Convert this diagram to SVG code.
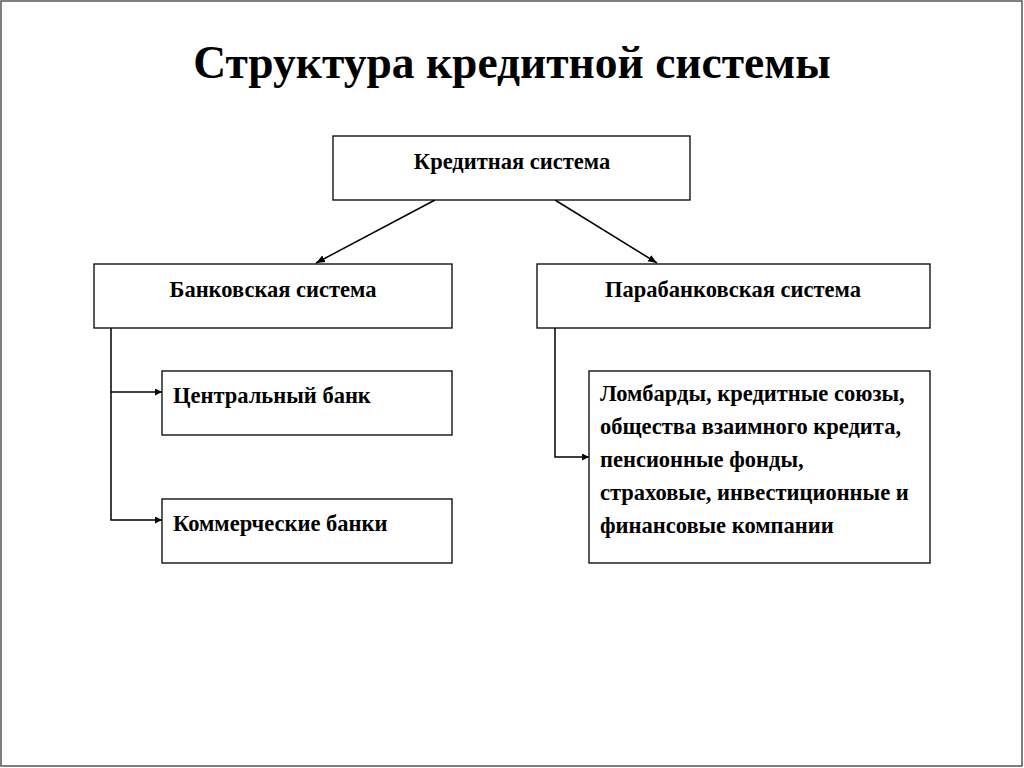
<svg xmlns="http://www.w3.org/2000/svg" width="1024" height="768" viewBox="0 0 1024 768">
<defs>
<style>
.box{fill:#fff;stroke:#000;stroke-width:1.3}
.t{font-family:"Liberation Serif","Times New Roman",serif;font-weight:bold;font-size:22.5px;fill:#000}
.c{stroke:#000;stroke-width:1.5;fill:none}
</style>
<marker id="ah" viewBox="0 0 10 10" refX="10" refY="5" markerWidth="7" markerHeight="7" markerUnits="userSpaceOnUse" orient="auto"><path d="M0,0 L10,5 L0,10 z" fill="#000"/></marker>
<marker id="ah2" viewBox="0 0 10 10" refX="10" refY="5" markerWidth="9" markerHeight="9" markerUnits="userSpaceOnUse" orient="auto"><path d="M0,1 L10,5 L0,9 z" fill="#000"/></marker>
</defs>
<rect x="0" y="0" width="1024" height="768" fill="#fff"/>
<rect x="1" y="1" width="1021" height="765" fill="none" stroke="#555" stroke-width="1.5"/>
<text x="512" y="78" text-anchor="middle" font-family="Liberation Serif,'Times New Roman',serif" font-weight="bold" font-size="45.5" fill="#000">Структура кредитной системы</text>
<g id="connectors">
<line class="c" x1="435" y1="200" x2="316" y2="263" marker-end="url(#ah2)"/>
<line class="c" x1="555" y1="200" x2="657" y2="263" marker-end="url(#ah2)"/>
<polyline class="c" points="111,328 111,520 162,520" marker-end="url(#ah)"/>
<line class="c" x1="111" y1="392" x2="162" y2="392" marker-end="url(#ah)"/>
<polyline class="c" points="555,328 555,457 589,457" marker-end="url(#ah)"/>
</g>
<g id="credit-system">
<rect class="box" x="333" y="136" width="357" height="64"/>
<text class="t" x="512" y="169" text-anchor="middle">Кредитная система</text>
</g>
<g id="banking-system">
<rect class="box" x="94" y="264" width="358" height="64"/>
<text class="t" x="273" y="297" text-anchor="middle">Банковская система</text>
</g>
<g id="parabanking-system">
<rect class="box" x="537" y="264" width="393" height="64"/>
<text class="t" x="733" y="297" text-anchor="middle">Парабанковская система</text>
</g>
<g id="central-bank">
<rect class="box" x="162" y="371" width="290" height="64"/>
<text class="t" x="173" y="403">Центральный банк</text>
</g>
<g id="commercial-banks">
<rect class="box" x="162" y="499" width="290" height="64"/>
<text class="t" x="173" y="531">Коммерческие банки</text>
</g>
<g id="other-institutions">
<rect class="box" x="589" y="371" width="341" height="192"/>
<text class="t" x="600" y="401">Ломбарды, кредитные союзы,</text>
<text class="t" x="600" y="434">общества взаимного кредита,</text>
<text class="t" x="600" y="467">пенсионные фонды,</text>
<text class="t" x="600" y="500">страховые, инвестиционные и</text>
<text class="t" x="600" y="533">финансовые компании</text>
</g>
</svg>
